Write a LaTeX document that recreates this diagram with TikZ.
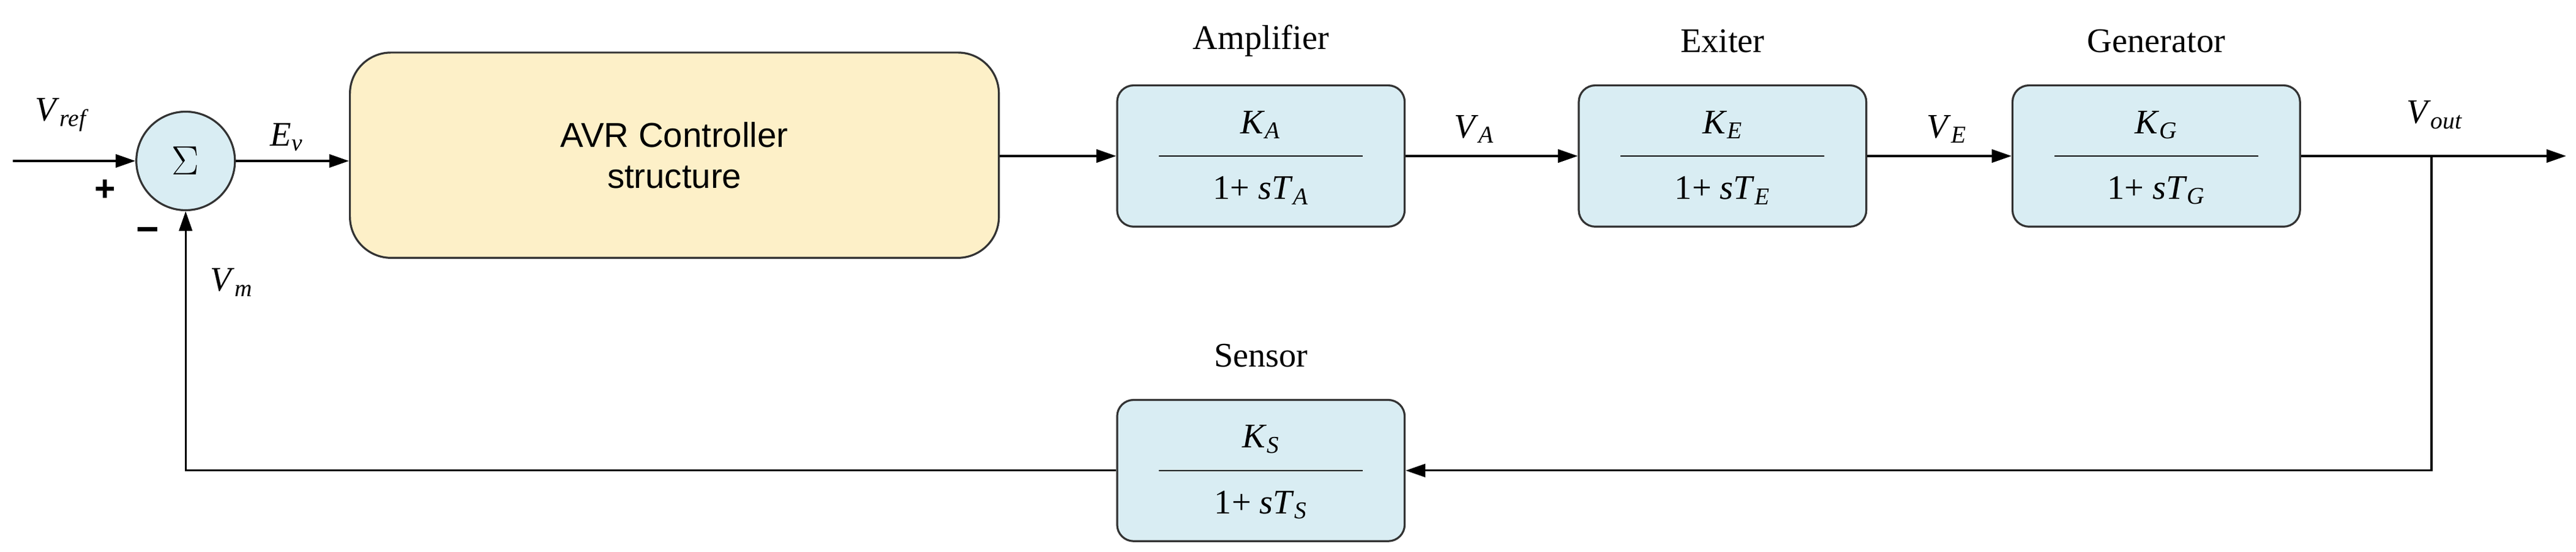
\documentclass[tikz,border=0pt]{standalone}
\usepackage{fontspec}
\setmainfont{Liberation Serif}
\newfontfamily\arialf{Liberation Sans}
\usetikzlibrary{arrows.meta}
\newcommand{\vsub}[2]{\textit{#1}\textsubscript{\textit{#2}}}
\definecolor{blk}{HTML}{D9EDF3}
\definecolor{avr}{HTML}{FDF0C8}
\definecolor{brd}{HTML}{333333}
\begin{document}
\begin{tikzpicture}[x=1pt,y=-1pt,
  every node/.style={font=\fontsize{21}{24}\selectfont},
  blkbox/.style={draw=brd,line width=1.2pt,fill=blk,rounded corners=10pt,minimum width=175pt,minimum height=86pt},
  arr/.style={-{Triangle[length=12pt,width=8pt]},line width=1.2pt},
  ln/.style={line width=1.2pt}]
\useasboundingbox (0,0) rectangle (1568,336);
% sum
\node[circle,draw=brd,line width=1.2pt,fill=blk,minimum size=60pt,inner sep=0pt] (sum) at (113,98) {\fontsize{26}{28}\selectfont$\Sigma$};
\coordinate (in) at (8,98);
\draw[arr] (in) -- (sum);
\node at (38,70) {\vsub{V}{ref}};
\node[font=\arialf\bfseries\fontsize{22}{24}\selectfont] at (64,116) {+};
\node[font=\arialf\bfseries\fontsize{24}{24}\selectfont] at (90,143) {\textminus};
% AVR
\node[draw=brd,line width=1.2pt,fill=avr,rounded corners=25pt,minimum width=395pt,minimum height=125pt,
  align=center,font=\arialf\fontsize{21}{25}\selectfont] (avr) at (410.5,94.5) {AVR Controller\\structure};
\draw[arr] (sum) -- (avr.west|-sum) node[pos=0.45,above=2pt] {\vsub{E}{v}};
% blocks
\foreach \n/\x/\y/\s/\lab in {amp/767.5/95/A/Amplifier,exc/1048.5/95/E/Exiter,gen/1312.5/95/G/Generator,sen/767.5/286.5/S/Sensor}{
  \node[blkbox] (\n) at (\x,\y) {};
  \node at (\x,\y-70) {\lab};
  \node at (\x,\y-19) {\vsub{K}{\s}};
  \draw[line width=1pt] (\x-62,\y) -- (\x+62,\y);
  \node at (\x,\y+21) {1+ \textit{s}\vsub{T}{\s}};
}
\draw[arr] (avr.east|-amp) -- (amp);
\draw[arr] (amp) -- (exc) node[pos=0.4,above=4pt] {\vsub{V}{A}};
\draw[arr] (exc) -- (gen) node[pos=0.55,above=4pt] {\vsub{V}{E}};
\coordinate (out) at (1562,95);
\coordinate (tap) at (1480,95);
\draw[arr] (gen) -- (out);
\node at (1482,70) {\vsub{V}{out}};
\draw[arr] (tap) |- (sen);
\draw[arr] (sen) -| (sum);
\node at (141,172) {\vsub{V}{m}};
\end{tikzpicture}
\end{document}
